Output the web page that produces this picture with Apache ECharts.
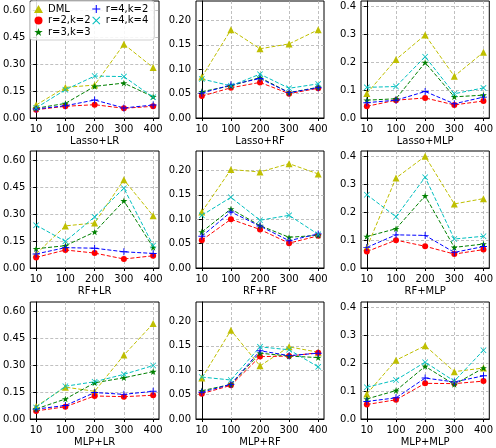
<!DOCTYPE html>
<html>
<head>
<meta charset="utf-8">
<script src="https://cdn.jsdelivr.net/npm/echarts@6/dist/echarts.min.js"></script>
<style>
  html, body { margin: 0; padding: 0; background: #fff; }
  #main { width: 496px; height: 448px; }
</style>
</head>
<body>
<div id="main"></div>
<script>
// sample sizes on the x axis
const xLabels = ["10", "100", "200", "300", "400"];
const panelTitles = [
  "Lasso+LR", "Lasso+RF", "Lasso+MLP",
  "RF+LR", "RF+RF", "RF+MLP",
  "MLP+LR", "MLP+RF", "MLP+MLP",
];
// y ticks per column
const yTicksCol = [
  [0, 0.15, 0.3, 0.45, 0.6],
  [0, 0.05, 0.1, 0.15, 0.2],
  [0, 0.1, 0.2, 0.3, 0.4],
];
const yMaxCol = [0.65, 0.24, 0.42];
const yDecimals = [2, 2, 1];

// one row per panel, in reading order
const dml = [
  [0.072, 0.17, 0.183, 0.41, 0.28],
  [0.084, 0.181, 0.142, 0.152, 0.181],
  [0.088, 0.21, 0.298, 0.15, 0.236],
  [0.078, 0.234, 0.25, 0.49, 0.29],
  [0.115, 0.202, 0.197, 0.214, 0.193],
  [0.074, 0.323, 0.401, 0.23, 0.249],
  [0.07, 0.177, 0.154, 0.355, 0.53],
  [0.084, 0.182, 0.109, 0.148, 0.137],
  [0.09, 0.211, 0.263, 0.17, 0.183],
];
const r2k2 = [
  [0.046, 0.065, 0.074, 0.054, 0.065],
  [0.045, 0.062, 0.073, 0.05, 0.061],
  [0.042, 0.064, 0.072, 0.047, 0.061],
  [0.059, 0.1, 0.083, 0.05, 0.068],
  [0.057, 0.1, 0.079, 0.051, 0.066],
  [0.059, 0.1, 0.078, 0.05, 0.066],
  [0.045, 0.068, 0.128, 0.124, 0.132],
  [0.052, 0.069, 0.128, 0.129, 0.136],
  [0.052, 0.069, 0.128, 0.127, 0.136],
];
const r3k3 = [
  [0.054, 0.081, 0.176, 0.194, 0.118],
  [0.054, 0.066, 0.083, 0.052, 0.063],
  [0.064, 0.069, 0.199, 0.076, 0.082],
  [0.107, 0.124, 0.2, 0.373, 0.114],
  [0.074, 0.121, 0.087, 0.063, 0.067],
  [0.113, 0.141, 0.259, 0.074, 0.086],
  [0.056, 0.111, 0.201, 0.229, 0.263],
  [0.058, 0.071, 0.135, 0.129, 0.126],
  [0.072, 0.102, 0.189, 0.124, 0.183],
];
const r4k2 = [
  [0.05, 0.068, 0.1, 0.056, 0.072],
  [0.051, 0.068, 0.081, 0.052, 0.062],
  [0.055, 0.064, 0.095, 0.051, 0.075],
  [0.078, 0.113, 0.11, 0.09, 0.081],
  [0.065, 0.115, 0.086, 0.056, 0.07],
  [0.074, 0.119, 0.117, 0.056, 0.077],
  [0.055, 0.075, 0.147, 0.137, 0.154],
  [0.055, 0.071, 0.14, 0.13, 0.135],
  [0.063, 0.076, 0.147, 0.133, 0.155],
];
const r4k4 = [
  [0.056, 0.157, 0.233, 0.23, 0.115],
  [0.08, 0.066, 0.09, 0.061, 0.07],
  [0.11, 0.113, 0.22, 0.087, 0.108],
  [0.238, 0.148, 0.284, 0.443, 0.125],
  [0.108, 0.145, 0.098, 0.108, 0.069],
  [0.263, 0.184, 0.326, 0.104, 0.114],
  [0.064, 0.182, 0.207, 0.248, 0.297],
  [0.086, 0.08, 0.148, 0.142, 0.107],
  [0.114, 0.14, 0.204, 0.136, 0.247],
];

const STAR = "path://M0,-1L0.224,-0.309L0.951,-0.309L0.363,0.118L0.588,0.809L0,0.382L-0.588,0.809L-0.363,0.118L-0.951,-0.309L-0.224,-0.309Z";
const PLUS = "path://M-1,-0.13L-0.13,-0.13L-0.13,-1L0.13,-1L0.13,-0.13L1,-0.13L1,0.13L0.13,0.13L0.13,1L-0.13,1L-0.13,0.13L-1,0.13Z";
const CROSS = "path://M-1,-0.82L-0.82,-1L0,-0.18L0.82,-1L1,-0.82L0.18,0L1,0.82L0.82,1L0,0.18L-0.82,1L-1,0.82L-0.18,0Z";

const seriesDefs = [
  { name: "DML", values: dml, color: "#bfbf00", symbol: "triangle", size: 7 },
  { name: "r=2,k=2", values: r2k2, color: "#ff0000", symbol: "circle", size: 6 },
  { name: "r=3,k=3", values: r3k3, color: "#008000", symbol: STAR, size: 7 },
  { name: "r=4,k=2", values: r4k2, color: "#0000ff", symbol: PLUS, size: 7 },
  { name: "r=4,k=4", values: r4k4, color: "#00bfbf", symbol: CROSS, size: 6 },
];

var chartDom = document.getElementById("main");
var myChart = echarts.init(chartDom);

const colLeft = [28, 196, 361];
const colWidth = [131, 128, 132];
const rowTop = [1, 151, 302];
const rowHeight = 117;
const gridLine = { show: true, lineStyle: { color: "#b0b0b0", type: [3, 2], width: 0.8 } };

const grids = [], xAxes = [], yAxes = [], series = [];
panelTitles.forEach(function (title, p) {
  const row = Math.floor(p / 3), col = p % 3;
  grids.push({
    left: colLeft[col], top: rowTop[row], width: colWidth[col], height: rowHeight,
    show: true, borderColor: "#000", borderWidth: 1, backgroundColor: "#fff",
  });
  xAxes.push({
    type: "value", gridIndex: p, min: -0.2, max: 4.2,
    name: title, nameLocation: "middle", nameGap: 18,
    nameTextStyle: { fontSize: 10, color: "#000" },
    axisLine: { show: true, onZero: false, lineStyle: { color: "#000", width: 1 } },
    axisTick: { show: true, length: 3, customValues: [0, 1, 2, 3, 4], lineStyle: { color: "#000" } },
    axisLabel: {
      customValues: [0, 1, 2, 3, 4], margin: 6, fontSize: 10, color: "#000",
      formatter: function (v) { return xLabels[Math.round(v)]; },
    },
    splitLine: gridLine,
  });
  yAxes.push({
    type: "value", gridIndex: p, min: 0, max: yMaxCol[col],
    axisLine: { show: true, lineStyle: { color: "#000", width: 1 } },
    axisTick: { show: true, length: 3, customValues: yTicksCol[col], lineStyle: { color: "#000" } },
    axisLabel: {
      customValues: yTicksCol[col], margin: 5, fontSize: 10, color: "#000",
      formatter: function (v) { return v.toFixed(yDecimals[col]); },
    },
    splitLine: gridLine,
  });
  seriesDefs.forEach(function (s) {
    series.push({
      name: s.name, type: "line", xAxisIndex: p, yAxisIndex: p,
      data: s.values[p].map(function (v, i) { return [i, v]; }),
      symbol: s.symbol, symbolSize: s.size, symbolKeepAspect: true,
      itemStyle: { color: s.color },
      lineStyle: { color: s.color, width: 1, type: [4, 2] },
      animation: false,
    });
  });
});

var option = {
  textStyle: { fontFamily: "DejaVu Sans" },
  animation: false,
  grid: grids,
  xAxis: xAxes,
  yAxis: yAxes,
  legend: {
    orient: "vertical", left: 30, top: 1, height: 34,
    itemGap: 1.5, itemWidth: 9, itemHeight: 8,
    padding: [3, 6, 3, 4],
    backgroundColor: "rgba(255,255,255,0.85)",
    borderColor: "#d0d0d0", borderWidth: 1, borderRadius: 3,
    textStyle: { fontSize: 10, lineHeight: 10, color: "#000" },
    data: seriesDefs.map(function (s) { return { name: s.name, icon: s.symbol }; }),
    z: 10,
  },
  series: series,
};

option && myChart.setOption(option);
</script>
</body>
</html>
